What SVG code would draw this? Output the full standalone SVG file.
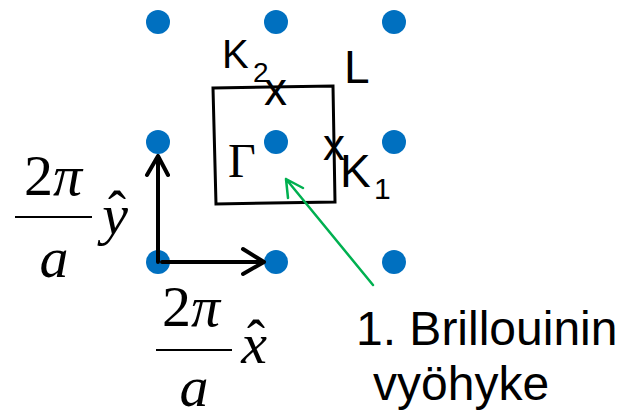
<svg xmlns="http://www.w3.org/2000/svg" width="620" height="413" viewBox="0 0 620 413">
<style>
.dot{fill:#0070C0}
.sans{font-family:"Liberation Sans",Arial,sans-serif;fill:#000}
.serif{font-family:"Liberation Serif","Times New Roman",serif;fill:#000}
.ital{font-style:italic}
.blk{fill:none;stroke:#000;stroke-width:4;stroke-linecap:round;stroke-linejoin:round}
.grn{fill:none;stroke:#00B050;stroke-width:2.5;stroke-linecap:round;stroke-linejoin:round}
.bar{stroke:#000;stroke-width:2}
</style>
<rect width="620" height="413" fill="#fff"/>
<g id="lattice">
<circle class="dot" cx="158" cy="22" r="12"/>
<circle class="dot" cx="276" cy="22" r="12"/>
<circle class="dot" cx="394" cy="22" r="12"/>
<circle class="dot" cx="158" cy="142" r="12"/>
<circle class="dot" cx="276" cy="142" r="12"/>
<circle class="dot" cx="394" cy="142" r="12"/>
<circle class="dot" cx="158" cy="262" r="12"/>
<circle class="dot" cx="276" cy="262" r="12"/>
<circle class="dot" cx="394" cy="262" r="12"/>
</g>
<g id="zone">
<path d="M213,88 L333,86 L335,202 L216,204 Z" fill="none" stroke="#000" stroke-width="3"/>
<text class="serif" x="228" y="177" font-size="48">Γ</text>
</g>
<g id="K2">
<text class="sans" x="275.5" y="105" font-size="46" text-anchor="middle">x</text>
<text class="sans" x="222" y="68" font-size="40">K</text>
<text class="sans" x="253" y="82" font-size="28">2</text>
</g>
<g id="L">
<text class="sans" x="344" y="83" font-size="46">L</text>
</g>
<g id="K1">
<text class="sans" x="334" y="160" font-size="44" text-anchor="middle">x</text>
<text class="sans" x="340" y="187" font-size="46">K</text>
<text class="sans" x="374" y="199" font-size="30">1</text>
</g>
<g id="connectors">
<path class="blk" d="M158,262 L158,156 M147,175 L158,156 L168,175"/>
<path class="blk" d="M162,262 L264,262 M243,249 L264,262 L243,274"/>
<path class="grn" d="M373,285 L286,179 M288,198 L286,179 L303,188"/>
</g>
<g id="label-y">
<text class="serif" x="53" y="195" font-size="58" text-anchor="middle">2<tspan class="ital">π</tspan></text>
<line class="bar" x1="15" y1="217" x2="92" y2="217"/>
<text class="serif ital" x="54" y="277" font-size="58" text-anchor="middle">a</text>
<text class="serif ital" x="115" y="234" font-size="58" text-anchor="middle">y</text>
<text class="serif" x="117" y="229" font-size="54" text-anchor="middle">ˆ</text>
</g>
<g id="label-x">
<text class="serif" x="191" y="326" font-size="58" text-anchor="middle">2<tspan class="ital">π</tspan></text>
<line class="bar" x1="156" y1="350" x2="232" y2="350"/>
<text class="serif ital" x="194" y="406" font-size="58" text-anchor="middle">a</text>
<text class="serif ital" x="254" y="363" font-size="58" text-anchor="middle">x</text>
<text class="serif" x="256" y="358" font-size="54" text-anchor="middle">ˆ</text>
</g>
<g id="caption">
<text class="sans" x="356" y="345" font-size="48">1. Brillouinin</text>
<text class="sans" x="373" y="400" font-size="48">vyöhyke</text>
</g>
</svg>
